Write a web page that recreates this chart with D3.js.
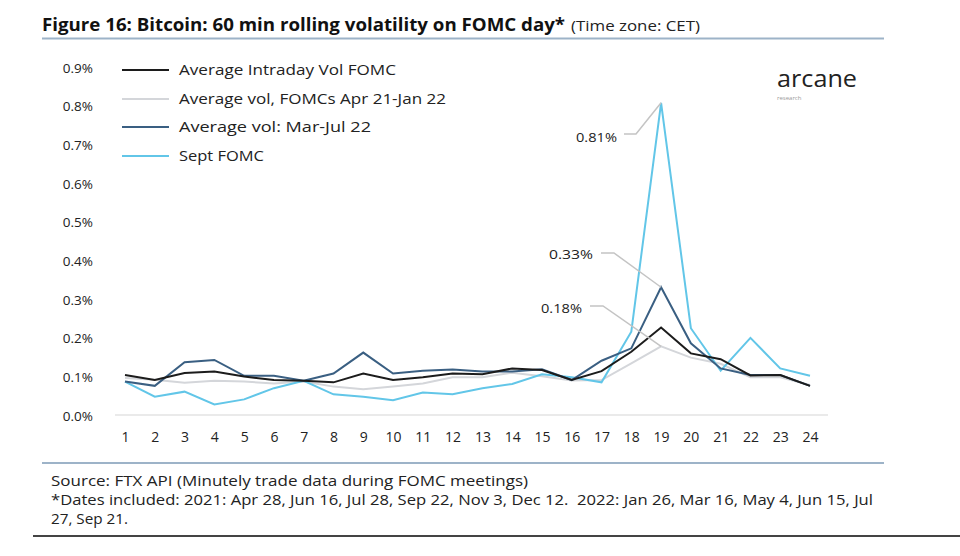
<!DOCTYPE html>
<html>
<head>
<meta charset="utf-8">
<script src="https://cdn.jsdelivr.net/npm/d3@7"></script>
<style>
  body { margin: 0; background: #fff; }
  svg { display: block; }
  text { font-family: "Open Sans", Lato, sans-serif; }
</style>
</head>
<body>
<svg id="chart" width="960" height="556"></svg>
<script>
// ---- Data (values in %) ----
const hours = d3.range(1, 25);
const yTicks = [0, 0.1, 0.2, 0.3, 0.4, 0.5, 0.6, 0.7, 0.8, 0.9];
const seriesNames = ["Average Intraday Vol FOMC", "Average vol, FOMCs Apr 21-Jan 22", "Average vol: Mar-Jul 22", "Sept FOMC"];
const avgIntraday = [0.106, 0.093, 0.111, 0.115, 0.102, 0.093, 0.091, 0.087, 0.110, 0.093, 0.100, 0.110, 0.108, 0.123, 0.119, 0.093, 0.116, 0.166, 0.229, 0.162, 0.147, 0.105, 0.106, 0.078];
const avgAprJan = [0.098, 0.094, 0.086, 0.091, 0.089, 0.084, 0.089, 0.076, 0.069, 0.076, 0.084, 0.100, 0.100, 0.112, 0.103, 0.092, 0.093, 0.136, 0.180, 0.151, 0.135, 0.100, 0.100, 0.080];
const avgMarJul = [0.089, 0.078, 0.139, 0.145, 0.104, 0.104, 0.091, 0.110, 0.164, 0.110, 0.117, 0.120, 0.115, 0.115, 0.121, 0.093, 0.143, 0.175, 0.333, 0.188, 0.123, 0.106, 0.106, 0.078];
const septFomc = [0.089, 0.050, 0.063, 0.030, 0.043, 0.072, 0.091, 0.056, 0.050, 0.041, 0.061, 0.056, 0.072, 0.083, 0.108, 0.100, 0.087, 0.218, 0.810, 0.227, 0.117, 0.202, 0.123, 0.104];
const seriesColors = ["#1c1c1c", "#d4d6da", "#3a5f82", "#62c6e8"];
const labelTexts = ["0.81%", "0.33%", "0.18%"];

const svg = d3.select("#chart");

const x = d3.scaleLinear().domain([1, 24]).range([125, 810]);
const y = d3.scaleLinear().domain([0, 0.9]).range([416, 68]);

function fit(sel, w) {
  sel.attr("textLength", w).attr("lengthAdjust", "spacingAndGlyphs");
  return sel;
}

// Title
fit(svg.append("text").attr("x", 42).attr("y", 31).attr("font-weight", 700).attr("font-size", 17)
  .attr("fill", "#111").text("Figure 16: Bitcoin: 60 min rolling volatility on FOMC day*"), 523);
fit(svg.append("text").attr("x", 571).attr("y", 31).attr("font-size", 14).attr("fill", "#222")
  .text("(Time zone: CET)"), 129);
svg.append("line").attr("x1", 42).attr("x2", 884).attr("y1", 38.5).attr("y2", 38.5)
  .attr("stroke", "#9db3c8").attr("stroke-width", 2);

// Baseline
svg.append("line").attr("x1", 115).attr("x2", 828).attr("y1", y(0) - 1).attr("y2", y(0) - 1)
  .attr("stroke", "#e3e3e3").attr("stroke-width", 1.5);

// Y axis
const yAxis = d3.axisLeft(y).tickValues(yTicks).tickFormat(d => d.toFixed(1) + "%").tickSize(0).tickPadding(0);
const gy = svg.append("g").attr("transform", "translate(93,0)").call(yAxis);
gy.select(".domain").remove();
gy.selectAll("text").attr("font-size", 13.5).attr("fill", "#222").attr("font-family", "'Open Sans', sans-serif");

// X axis
const xAxis = d3.axisBottom(x).tickValues(hours).tickFormat(d3.format("d")).tickSize(0).tickPadding(0);
const gx = svg.append("g").attr("transform", "translate(0,432)").call(xAxis);
gx.select(".domain").remove();
gx.selectAll("text").attr("font-size", 14).attr("fill", "#222").attr("font-family", "'Open Sans', sans-serif");

// Lines
const allSeries = [avgIntraday, avgAprJan, avgMarJul, septFomc];
const line = d3.line().x((d, i) => x(hours[i])).y(d => y(d));
const drawOrder = [1, 3, 2, 0];
drawOrder.forEach(k => {
  svg.append("path").datum(allSeries[k]).attr("d", line)
    .attr("fill", "none").attr("stroke", seriesColors[k]).attr("stroke-width", 2)
    .attr("stroke-linejoin", "miter");
});

// Leader lines and labels
const peakIdx = 18;
const callouts = [
  { text: labelTexts[0], value: septFomc[peakIdx], tx: 576, ty: 142, w: 41, lx1: 624, lx2: 636, ly: 134 },
  { text: labelTexts[1], value: avgMarJul[peakIdx], tx: 549, ty: 259, w: 44, lx1: 601, lx2: 614, ly: 253 },
  { text: labelTexts[2], value: avgAprJan[peakIdx], tx: 541, ty: 313, w: 41, lx1: 590, lx2: 603, ly: 306 }
];
callouts.forEach(c => {
  svg.append("polyline")
    .attr("points", `${c.lx1},${c.ly} ${c.lx2},${c.ly} ${x(19)},${y(c.value)}`)
    .attr("fill", "none").attr("stroke", "#c4c4c4").attr("stroke-width", 1.5);
  fit(svg.append("text").attr("x", c.tx).attr("y", c.ty)
    .attr("font-size", 13.5).attr("fill", "#222").text(c.text), c.w);
});

// Legend
const legendY = [70, 99, 127, 156];
const legendW = [217, 267, 192, 85];
seriesNames.forEach((name, i) => {
  svg.append("line").attr("x1", 122).attr("x2", 169).attr("y1", legendY[i]).attr("y2", legendY[i])
    .attr("stroke", seriesColors[i]).attr("stroke-width", 2);
  fit(svg.append("text").attr("x", 179).attr("y", legendY[i] + 5)
    .attr("font-size", 14.5).attr("fill", "#222").text(name), legendW[i]);
});

// Logo
fit(svg.append("text").attr("x", 777).attr("y", 87).attr("font-size", 24).attr("fill", "#222")
  .attr("font-family", "'Noto Sans', sans-serif").text("arcane"), 80);
svg.append("text").attr("x", 777).attr("y", 100).attr("font-size", 6).attr("fill", "#999").text("research");

// Footer
svg.append("line").attr("x1", 42).attr("x2", 884).attr("y1", 463).attr("y2", 463)
  .attr("stroke", "#9db3c8").attr("stroke-width", 2);
const foot = ["Source: FTX API (Minutely trade data during FOMC meetings)",
  "*Dates included: 2021: Apr 28, Jun 16, Jul 28, Sep 22, Nov 3, Dec 12.  2022: Jan 26, Mar 16, May 4, Jun 15, Jul",
  "27, Sep 21."];
const footW = [477, 822, 77];
foot.forEach((t, i) => {
  fit(svg.append("text").attr("x", 51).attr("y", 486 + i * 19).attr("font-size", 14.5).attr("fill", "#222")
    .style("white-space", "pre").text(t), footW[i]);
});
svg.append("line").attr("x1", 33).attr("x2", 960).attr("y1", 536).attr("y2", 536)
  .attr("stroke", "#444").attr("stroke-width", 2);
</script>
</body>
</html>
